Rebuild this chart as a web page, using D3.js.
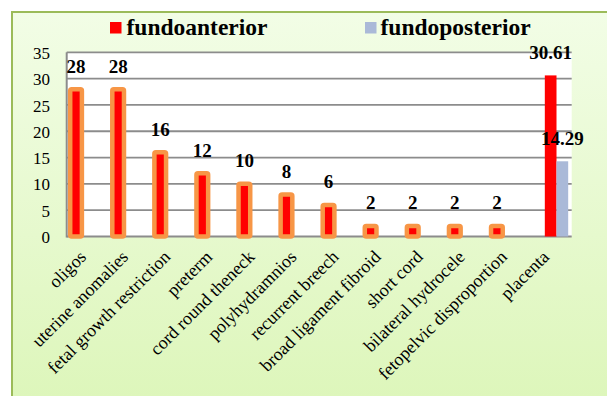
<!DOCTYPE html>
<html><head><meta charset="utf-8">
<script src="https://cdn.jsdelivr.net/npm/d3@7"></script>
<style>html,body{margin:0;padding:0;background:#fff;}svg{display:block;}
</style>
</head><body>
<svg id="c" width="607" height="396"></svg>
<script>
const categories = ["oligos","uterine anomalies","fetal growth restriction","preterm","cord round theneck","polyhydramnios","recurrent breech","broad ligament fibroid","short cord","bilateral hydrocele","fetopelvic disproportion","placenta"];
const seriesMain = [28,28,16,12,10,8,6,2,2,2,2,null];
const fundoanterior = [null,null,null,null,null,null,null,null,null,null,null,30.61];
const fundoposterior = [null,null,null,null,null,null,null,null,null,null,null,14.29];
const yTicks = [0,5,10,15,20,25,30,35];
const legendNames = ["fundoanterior","fundoposterior"];

const FONT = '"Liberation Serif","Times New Roman",serif';
const svg = d3.select("#c");
const L = 66.7, R = 571.7, T = 52.3, B = 236.5;

const defs = svg.append("defs");
const g = defs.append("linearGradient").attr("id","bg").attr("x1",0).attr("y1",0).attr("x2",0).attr("y2",1);
g.append("stop").attr("offset","0%").attr("stop-color","#f2fde6");
g.append("stop").attr("offset","100%").attr("stop-color","#d7f4ae");
svg.append("rect").attr("x",12).attr("y",12).attr("width",700).attr("height",500)
  .attr("fill","url(#bg)").attr("stroke","#9bbb59").attr("stroke-width",2);

const x0 = d3.scaleBand().domain(categories).range([L,R]).paddingInner(0).paddingOuter(0);
const x1 = d3.scaleBand().domain([0,1,2]).range([0,x0.bandwidth()]).paddingInner(0).paddingOuter(0.3);
const y = d3.scaleLinear().domain([0,35]).range([B,T]);

svg.append("rect").attr("x",L).attr("y",T).attr("width",R-L).attr("height",B-T).attr("fill","#fff");
svg.append("g").selectAll("line").data(yTicks.filter(d=>d>0)).join("line")
  .attr("x1",L).attr("x2",R).attr("y1",d=>y(d)).attr("y2",d=>y(d))
  .attr("stroke","#8c8c8c").attr("stroke-width",1.8);
svg.append("line").attr("x1",L).attr("x2",L).attr("y1",T).attr("y2",B+1).attr("stroke","#8c8c8c").attr("stroke-width",2);
svg.append("line").attr("x1",L).attr("x2",R).attr("y1",B).attr("y2",B).attr("stroke","#8c8c8c").attr("stroke-width",2.2);

const yAxis = d3.axisLeft(y).tickValues(yTicks).tickSize(0).tickPadding(0);
const ya = svg.append("g").attr("transform",`translate(50,0)`).call(yAxis);
ya.select(".domain").remove();
ya.selectAll("text").style("font-family",FONT).style("font-size","17px").attr("fill","#000").attr("dy","0.36em");

const bw = x1.bandwidth();
const mainData = categories.map((c,i)=>({c,v:seriesMain[i]})).filter(d=>d.v!=null);
svg.append("g").selectAll("rect").data(mainData).join("rect")
  .attr("x",d=>x0(d.c)+x1(0)).attr("width",bw)
  .attr("y",d=>y(d.v)).attr("height",d=>y(0)-y(d.v))
  .attr("fill","#ff0000").attr("stroke","#f79646").attr("stroke-width",4.5).attr("rx",1.5);

const antData = categories.map((c,i)=>({c,v:fundoanterior[i]})).filter(d=>d.v!=null);
svg.append("g").selectAll("rect").data(antData).join("rect")
  .attr("x",d=>x0(d.c)+x1(1)).attr("width",bw)
  .attr("y",d=>y(d.v)).attr("height",d=>y(0)-y(d.v)).attr("fill","#ff0000");
const postData = categories.map((c,i)=>({c,v:fundoposterior[i]})).filter(d=>d.v!=null);
svg.append("g").selectAll("rect").data(postData).join("rect")
  .attr("x",d=>x0(d.c)+x1(2)).attr("width",bw)
  .attr("y",d=>y(d.v)).attr("height",d=>y(0)-y(d.v)).attr("fill","#aab9d8");

function labels(data, k){
  svg.append("g").selectAll("text").data(data).join("text")
    .attr("x",d=>x0(d.c)+x1(k)+bw/2).attr("y",d=>y(d.v)-16.5)
    .attr("text-anchor","middle")
    .style("font-family",FONT).style("font-weight","bold")
    .style("font-size","19px").attr("fill","#000").text(d=>d.v);
}
labels(mainData,0); labels(antData,1); labels(postData,2);

svg.append("g").selectAll("text").data(categories).join("text")
  .attr("transform",d=>`translate(${x0(d)+x0.bandwidth()/2-0.5},258) rotate(-45)`)
  .attr("text-anchor","end")
  .style("font-family",FONT).style("font-size","18px").attr("fill","#000").text(d=>d);

const leg = [{n:legendNames[0],c:"#ff0000",sx:110,tx:126.5},{n:legendNames[1],c:"#aab9d8",sx:365,tx:380.5}];
leg.forEach(d=>{
  svg.append("rect").attr("x",d.sx).attr("y",22).attr("width",11.5).attr("height",11.5).attr("fill",d.c);
  svg.append("text").attr("x",d.tx).attr("y",34.5)
    .style("font-family",FONT).style("font-weight","bold")
    .style("font-size","23.5px").attr("fill","#000").text(d.n);
});
</script>
</body></html>
